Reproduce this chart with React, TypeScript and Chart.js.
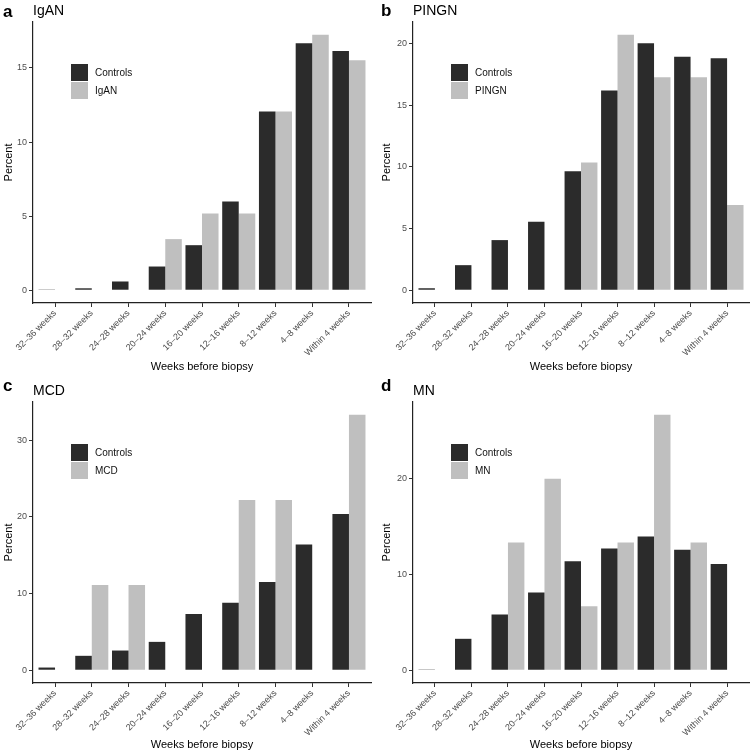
import React, { useEffect, useRef } from "react";
import { Chart, registerables } from "chart.js";

Chart.register(...registerables);

const FONT = "'Liberation Sans', Arial, Helvetica, sans-serif";

const categories = [
  "32–36 weeks",
  "28–32 weeks",
  "24–28 weeks",
  "20–24 weeks",
  "16–20 weeks",
  "12–16 weeks",
  "8–12 weeks",
  "4–8 weeks",
  "Within 4 weeks",
];

// Panel a: IgAN
const igControls = [0.05, 0.13, 0.59, 1.6, 3.04, 5.99, 12.07, 16.67, 16.15];
const igDisease = [0, 0, 0, 3.45, 5.17, 5.17, 12.07, 17.24, 15.52];
const igTicks = [0, 5, 10, 15];

// Panel b: PINGN
const piControls = [0.16, 2.03, 4.06, 5.55, 9.63, 16.18, 20.0, 18.92, 18.78];
const piDisease = [0, 0, 0, 0, 10.34, 20.69, 17.24, 17.24, 6.9];
const piTicks = [0, 5, 10, 15, 20];

// Panel c: MCD
const mcControls = [0.35, 1.88, 2.57, 3.7, 7.33, 8.81, 11.51, 16.4, 20.37];
const mcDisease = [0, 11.11, 11.11, 0, 0, 22.22, 22.22, 0, 33.33];
const mcTicks = [0, 10, 20, 30];

// Panel d: MN
const mnControls = [0.08, 3.28, 5.82, 8.12, 11.39, 12.72, 13.97, 12.58, 11.08];
const mnDisease = [0, 0, 13.33, 20.0, 6.67, 13.33, 26.67, 13.33, 0];
const mnTicks = [0, 10, 20];

const CONTROL_COLOR = "#2b2b2b";
const DISEASE_COLOR = "#bfbfbf";

type PanelProps = {
  letter: string;
  title: string;
  diseaseLabel: string;
  controls: number[];
  disease: number[];
  yTicks: number[];
  left: number;
  top: number;
  right: number;
  bottom: number;
  letterBaseline: number;
  titleBaseline: number;
  posX: number;
  posY: number;
};

function Panel(p: PanelProps) {
  const ref = useRef<HTMLCanvasElement | null>(null);
  useEffect(() => {
    if (!ref.current) return;
    const W = 378;
    const H = 378;
    const maxVal = Math.max(...p.controls, ...p.disease);
    const yMax = maxVal * 1.05;
    const yMin = -maxVal * 0.05;

    const decor = {
      id: "decor" + p.letter,
      afterDraw(chart: any) {
        const ctx = chart.ctx;
        const ca = chart.chartArea;
        ctx.save();
        ctx.fillStyle = "#000";
        ctx.textBaseline = "alphabetic";
        ctx.textAlign = "left";
        ctx.font = `bold 17px ${FONT}`;
        ctx.fillText(p.letter, 3, p.letterBaseline);
        ctx.font = `14px ${FONT}`;
        ctx.fillText(p.title, ca.left, p.titleBaseline);
        // legend
        const bx = ca.left + 38;
        const by = ca.top + 42;
        const bs = 17;
        chart.data.datasets.forEach((ds: any, i: number) => {
          const y = by + i * (bs + 1);
          ctx.fillStyle = ds.backgroundColor;
          ctx.fillRect(bx, y, bs, bs);
          ctx.fillStyle = "#111";
          ctx.font = `10px ${FONT}`;
          ctx.textBaseline = "middle";
          ctx.fillText(ds.label, bx + bs + 7, y + bs / 2 + 0.5);
        });
        ctx.restore();
      },
    };

    const chart = new Chart(ref.current, {
      type: "bar",
      data: {
        datasets: [
          {
            label: "Controls",
            data: p.controls.map((v, i) => ({ x: i, y: v })),
            backgroundColor: CONTROL_COLOR,
            borderWidth: 0,
            categoryPercentage: 0.9,
            barPercentage: 1.0,
          },
          {
            label: p.diseaseLabel,
            data: p.disease.map((v, i) => ({ x: i, y: v })),
            backgroundColor: DISEASE_COLOR,
            borderWidth: 0,
            categoryPercentage: 0.9,
            barPercentage: 1.0,
          },
        ],
      },
      options: {
        responsive: false,
        animation: false,
        devicePixelRatio: 1,
        layout: {
          padding: { top: p.top, right: W - p.right, left: 0, bottom: 0 },
        },
        plugins: {
          legend: { display: false },
          tooltip: { enabled: false },
          title: { display: false },
        },
        scales: {
          x: {
            type: "linear",
            min: -0.6,
            max: categories.length - 1 + 0.6,
            offset: false,
            afterBuildTicks: (s: any) => {
              s.ticks = categories.map((_, i) => ({ value: i }));
            },
            afterFit: (s: any) => {
              s.height = H - p.bottom;
            },
            ticks: {
              autoSkip: false,
              minRotation: 45,
              maxRotation: 45,
              color: "#4d4d4d",
              font: { size: 9, family: FONT },
              padding: 1,
              callback: (v: any) => categories[Math.round(Number(v))] ?? "",
            },
            grid: {
              display: true,
              drawOnChartArea: false,
              drawTicks: true,
              tickLength: 4,
              color: "#333",
              lineWidth: 1,
              offset: false,
            },
            border: { display: true, color: "#222", width: 1.2 },
            title: {
              display: true,
              text: "Weeks before biopsy",
              color: "#000",
              font: { size: 11, family: FONT },
              padding: { top: 4, bottom: 4 },
            },
          },
          y: {
            type: "linear",
            min: yMin,
            max: yMax,
            afterBuildTicks: (s: any) => {
              s.ticks = p.yTicks.map((v) => ({ value: v }));
            },
            afterFit: (s: any) => {
              s.width = p.left;
            },
            ticks: {
              color: "#4d4d4d",
              font: { size: 9, family: FONT },
              padding: 2,
            },
            grid: {
              display: true,
              drawOnChartArea: false,
              drawTicks: true,
              tickLength: 4,
              color: "#333",
              lineWidth: 1,
            },
            border: { display: true, color: "#222", width: 1.2 },
            title: {
              display: true,
              text: "Percent",
              color: "#000",
              font: { size: 11, family: FONT },
              padding: { top: 2, bottom: 0 },
            },
          },
        },
      } as any,
      plugins: [decor],
    });
    return () => chart.destroy();
  }, []);

  return (
    <div style={{ position: "absolute", left: p.posX, top: p.posY, width: 378, height: 378 }}>
      <canvas ref={ref} width={378} height={378} style={{ width: 378, height: 378, display: "block" }} />
    </div>
  );
}

export default function App() {
  return (
    <div style={{ position: "absolute", left: 0, top: 0, width: 756, height: 756, background: "#fff" }}>
      <Panel letter="a" title="IgAN" diseaseLabel="IgAN" controls={igControls} disease={igDisease} yTicks={igTicks}
        left={33} top={22} right={371} bottom={303} letterBaseline={17} titleBaseline={15} posX={0} posY={0} />
      <Panel letter="b" title="PINGN" diseaseLabel="PINGN" controls={piControls} disease={piDisease} yTicks={piTicks}
        left={35} top={22} right={371} bottom={303} letterBaseline={16} titleBaseline={15} posX={378} posY={0} />
      <Panel letter="c" title="MCD" diseaseLabel="MCD" controls={mcControls} disease={mcDisease} yTicks={mcTicks}
        left={33} top={24} right={371} bottom={305} letterBaseline={13} titleBaseline={17} posX={0} posY={378} />
      <Panel letter="d" title="MN" diseaseLabel="MN" controls={mnControls} disease={mnDisease} yTicks={mnTicks}
        left={35} top={24} right={371} bottom={305} letterBaseline={13} titleBaseline={17} posX={378} posY={378} />
    </div>
  );
}
